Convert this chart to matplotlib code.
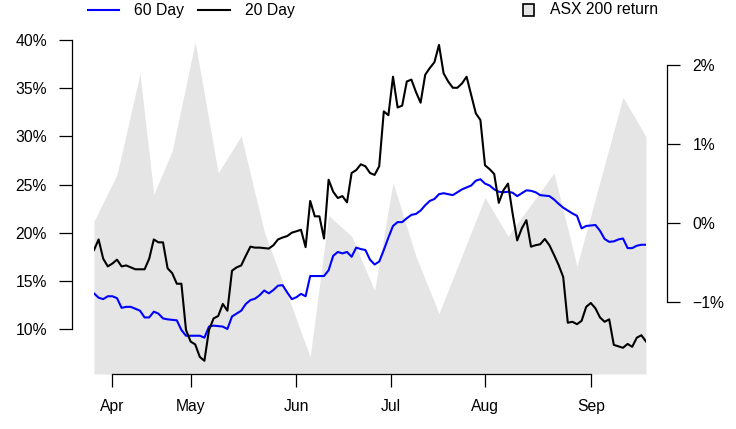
import numpy as np
import matplotlib
matplotlib.use('Agg')
import matplotlib.pyplot as plt
from matplotlib.lines import Line2D
from matplotlib.patches import Rectangle

plt.rcParams['font.family'] = ['Liberation Sans', 'DejaVu Sans']
plt.rcParams['font.size'] = 11.3

# trading-day index, late March .. mid September
vol_20 = [18.2, 19.3, 17.3, 16.5, 16.8, 17.2, 16.5, 16.6, 16.4, 16.2,
          16.2, 16.2, 17.3, 19.3, 19.0, 19.0, 16.3, 15.8, 14.7, 14.7,
          9.9, 8.7, 8.4, 7.1, 6.7, 9.9, 11.1, 11.35, 12.6, 11.9,
          16.05, 16.4, 16.6, 17.6, 18.55, 18.45, 18.45, 18.4, 18.35, 18.7,
          19.3, 19.5, 19.65, 20.0, 20.15, 20.3, 18.5, 23.3, 21.7, 21.7,
          19.4, 25.5, 24.25, 23.6, 23.8, 23.15, 26.2, 26.5, 27.1, 26.9,
          26.2, 26.0, 26.9, 32.6, 32.2, 36.2, 33.0, 33.2, 35.7, 35.9,
          34.6, 33.5, 36.4, 37.1, 37.7, 39.5, 36.55, 35.7, 35.05, 35.05,
          35.5, 36.2, 34.3, 32.4, 31.7, 27.0, 26.6, 26.1, 23.1, 24.4,
          25.1, 22.0, 19.2, 20.45, 21.3, 18.55, 18.7, 18.8, 19.35, 18.7,
          17.7, 16.65, 15.4, 10.65, 10.75, 10.5, 10.85, 12.3, 12.7, 12.15,
          11.2, 10.75, 11.0, 8.35, 8.2, 8.05, 8.45, 8.15, 9.1, 9.35,
          8.7]

vol_60 = [13.7, 13.25, 13.1, 13.4, 13.4, 13.2, 12.2, 12.3, 12.3, 12.1,
          11.9, 11.2, 11.2, 11.8, 11.6, 11.1, 11.0, 10.95, 10.9, 9.9,
          9.3, 9.3, 9.3, 9.3, 9.1, 10.25, 10.35, 10.3, 10.25, 10.0,
          11.3, 11.6, 11.9, 12.6, 13.0, 13.15, 13.5, 14.0, 13.7, 14.05,
          14.5, 14.55, 13.8, 13.1, 13.3, 13.65, 13.4, 15.5, 15.5, 15.5,
          15.5, 16.1, 17.6, 18.0, 17.85, 18.0, 17.5, 18.45, 18.3, 18.2,
          17.2, 16.7, 17.0, 18.2, 19.5, 20.7, 21.1, 21.1, 21.5, 21.85,
          21.95, 22.3, 22.85, 23.3, 23.5, 24.0, 24.1, 24.0, 23.9, 24.2,
          24.5, 24.7, 24.9, 25.4, 25.55, 25.1, 24.9, 24.5, 24.25, 24.2,
          24.25, 24.15, 23.8, 24.1, 24.4, 24.35, 24.2, 23.9, 23.85, 23.8,
          23.45, 23.0, 22.6, 22.3, 22.0, 21.75, 20.45, 20.7, 20.75, 20.8,
          20.2, 19.35, 19.05, 19.1, 19.3, 19.4, 18.4, 18.4, 18.65, 18.75,
          18.75]

# weekly ASX 200 return (%)
ret_day = [0, 5, 10, 13, 17, 22, 27, 32, 37, 47, 51, 56, 61, 65, 70,
           75, 85, 90, 100, 105, 115, 120]
ret_pct = [0.02, 0.61, 1.89, 0.36, 0.91, 2.29, 0.63, 1.10, -0.11, -1.70,
           0.09, -0.17, -0.86, 0.51, -0.43, -1.15, 0.32, -0.17, 0.63,
           -0.55, 1.59, 1.09]

month_day = [4, 21, 44, 64.5, 85, 108]
month_lab = ['Apr', 'May', 'Jun', 'Jul', 'Aug', 'Sep']

vol_ticks = [10, 15, 20, 25, 30, 35, 40]
ret_ticks = [-1, 0, 1, 2]

days = np.arange(len(vol_20))

W, H = 736, 429
fig = plt.figure(figsize=(W / 100, H / 100), dpi=100)
rect = [94 / W, 55 / H, 552 / W, 354 / H]

# grey return area on the right axis
ax_r = fig.add_axes(rect)
r_lo, r_hi = -1.917, 2.569
ax_r.fill_between(ret_day, ret_pct, r_lo, color='#e5e5e5', lw=0)
ax_r.set_ylim(r_lo, r_hi)
ax_r.set_xlim(0, len(vol_20) - 1)
for s in ['top', 'left']:
    ax_r.spines[s].set_visible(False)
ax_r.yaxis.tick_right()
ax_r.spines['right'].set_position(('outward', 15))
ax_r.spines['right'].set_bounds(-1, 2)
ax_r.set_yticks(ret_ticks)
ax_r.set_yticklabels(['\u22121%', '0%', '1%', '2%'])
ax_r.spines['bottom'].set_bounds(month_day[0], month_day[-1])
ax_r.set_xticks(month_day)
ax_r.set_xticklabels(month_lab)
ax_r.tick_params(axis='y', length=9.4, pad=9, width=0.9)
ax_r.tick_params(axis='x', length=9.2, pad=9, width=0.9)
for s in ['right', 'bottom']:
    ax_r.spines[s].set_linewidth(0.9)

# volatility lines on the left axis
ax = fig.add_axes(rect, sharex=ax_r)
ax.patch.set_visible(False)
ax.plot(days, vol_60, color='#0000ff', lw=1.5)
ax.plot(days, vol_20, color='black', lw=1.5)
ax.set_ylim(5.327, 42.087)
for s in ['top', 'right', 'bottom']:
    ax.spines[s].set_visible(False)
ax.spines['left'].set_position(('outward', 16))
ax.spines['left'].set_bounds(10, 40)
ax.spines['left'].set_linewidth(0.9)
ax.set_yticks(vol_ticks)
ax.set_yticklabels([f'{v}%' for v in vol_ticks])
ax.tick_params(axis='y', length=9.4, pad=8.5, width=0.9)
ax.tick_params(axis='x', bottom=False, labelbottom=False)

# legend across the top
ly = 1 - 10 / H
fig.add_artist(Line2D([88 / W, 119 / W], [ly, ly], color='#0000ff', lw=1.5))
fig.text(134 / W, ly, '60 Day', va='center', ha='left')
fig.add_artist(Line2D([198 / W, 230 / W], [ly, ly], color='black', lw=1.5))
fig.text(245 / W, ly, '20 Day', va='center', ha='left')
fig.add_artist(Rectangle((523 / W, ly - 5.5 / H), 11 / W, 11 / H,
                         facecolor='#e5e5e5', edgecolor='black', lw=1.2))
fig.text(550 / W, ly, 'ASX 200 return', va='center', ha='left')

fig.savefig('out.png', dpi=100)
